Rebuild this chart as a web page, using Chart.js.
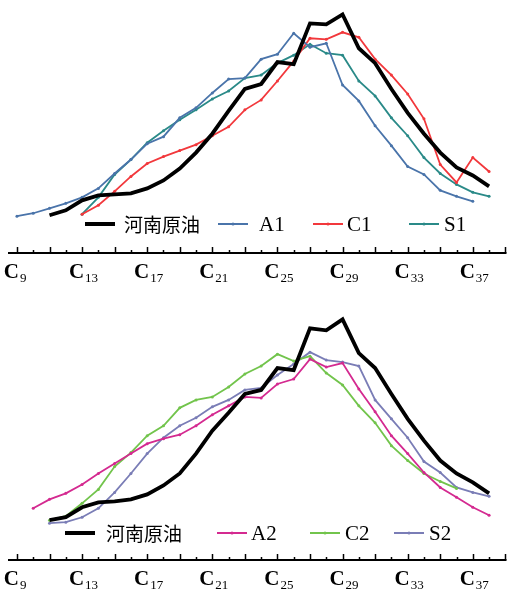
<!DOCTYPE html>
<html>
<head>
<meta charset="utf-8">
<script src="https://cdn.jsdelivr.net/npm/chart.js@4.4.1/dist/chart.umd.min.js"></script>
<style>
  html, body { margin: 0; padding: 0; background: #fff; }
  .panel { position: relative; width: 508px; }
</style>
</head>
<body>
<div class="panel" style="height:290px"><canvas id="chartTop" width="508" height="290"></canvas></div>
<div class="panel" style="height:299px"><canvas id="chartBottom" width="508" height="299"></canvas></div>
<script>
// carbon numbers C9 .. C38
const carbonNumbers = [9,10,11,12,13,14,15,16,17,18,19,20,21,22,23,24,25,26,27,28,29,30,31,32,33,34,35,36,37,38];
const tickCarbons = [9, 13, 17, 21, 25, 29, 33, 37];

// upper panel
const henanTop = [null,null,38,43,53,58,59,60,65,73,85,101,120,143,165,170,192,190,231,230,240,206,191,165,141,120,101,86,78,67];
const a1 = [37,40,45,50,56,65,80,94,110,117,136,146,161,175,176,195,200,221,207,211,169,153,128,108,87,79,63,57,52,null];
const c1 = [null,null,null,null,39,48,62,77,90,97,103,109,118,127,144,154,173,193,216,215,222,217,195,179,160,135,89,71,96,82];
const s1 = [null,null,null,null,39,56,79,94,111,123,134,144,155,163,176,179,191,199,210,201,199,173,158,136,118,96,80,69,61,57];

// lower panel
const henanBottom = [null,null,40,43,53,58,59,61,66,75,87,107,130,148,167,171,193,191,233,231,242,208,193,167,142,120,100,87,78,67];
const a2 = [null,52,61,67,76,87,97,107,117,122,126,135,146,155,164,163,177,182,202,194,198,172,149,125,107,88,73,63,53,45];
const c2 = [null,null,40,44,57,71,94,108,125,135,153,161,164,174,187,195,207,200,205,188,176,155,138,115,100,87,79,72,null,null];
const s2 = [null,null,37,38,43,52,68,87,107,123,135,143,154,161,171,173,186,197,209,201,199,195,161,142,123,99,88,73,68,64];

function toPoints(arr) {
    return carbonNumbers.map((c, i) => ({x: c, y: arr[i]}));
}

function lineSet(label, arr, color, width, radius) {
    return {
        label: label,
        data: toPoints(arr),
        borderColor: color,
        backgroundColor: color,
        borderWidth: width,
        pointRadius: radius,
        pointHoverRadius: radius,
        pointBorderWidth: 0,
        tension: 0,
        spanGaps: false
    };
}

// axis line, inward ticks, C-number labels and in-plot legend
const axisPlugin = {
    id: 'axisPlugin',
    afterDraw(chart, args, opts) {
        const ctx = chart.ctx;
        const xs = chart.scales.x;
        const area = chart.chartArea;
        const y0 = area.bottom;
        ctx.save();
        ctx.strokeStyle = '#000';
        ctx.lineWidth = 2;
        ctx.beginPath();
        ctx.moveTo(area.left, y0);
        ctx.lineTo(area.right, y0);
        ctx.stroke();
        ctx.lineWidth = 1.5;
        for (let c = 9; c <= 39; c++) {
            const px = Math.round(xs.getPixelForValue(c)) + 0.5;
            const len = (c % 2 === 1) ? 6 : 3;
            ctx.beginPath();
            ctx.moveTo(px, y0);
            ctx.lineTo(px, y0 - len);
            ctx.stroke();
        }
        ctx.fillStyle = '#000';
        tickCarbons.forEach(c => {
            const px = xs.getPixelForValue(c);
            ctx.font = 'bold 21px "Liberation Serif"';
            ctx.textAlign = 'right';
            ctx.textBaseline = 'alphabetic';
            ctx.fillText('C', px + 2, y0 + 25);
            ctx.font = '13px "Liberation Serif"';
            ctx.textAlign = 'left';
            ctx.fillText(String(c), px + 3, y0 + 29);
        });

        // legend
        const lg = opts.legend;
        ctx.textBaseline = 'middle';
        ctx.textAlign = 'left';
        chart.data.datasets.forEach((ds, i) => {
            const item = lg.items[i];
            ctx.strokeStyle = ds.borderColor;
            ctx.lineWidth = i === 0 ? 4 : 2;
            ctx.beginPath();
            ctx.moveTo(item[0], lg.y);
            ctx.lineTo(item[0] + 30, lg.y);
            ctx.stroke();
            if (i > 0) {
                ctx.fillStyle = ds.borderColor;
                ctx.beginPath();
                ctx.arc(item[0] + 15, lg.y, 1.5, 0, Math.PI * 2);
                ctx.fill();
            }
            ctx.fillStyle = '#000';
            ctx.font = i === 0 ? '19px "Noto Sans CJK SC"' : '21px "Liberation Serif"';
            ctx.fillText(ds.label, item[1], lg.y + 1);
        });
        ctx.restore();
    }
};

function makeChart(id, datasets, yMax, bottomPad, legend) {
    return new Chart(document.getElementById(id), {
        type: 'line',
        data: { datasets: datasets },
        options: {
            responsive: false,
            animation: false,
            layout: { padding: { left: 8, right: 0, top: 0, bottom: bottomPad } },
            scales: {
                x: { type: 'linear', min: 8.45, max: 39.07, display: false },
                y: { min: 0, max: yMax, display: false }
            },
            plugins: {
                legend: { display: false },
                tooltip: { enabled: false },
                axisPlugin: { legend: legend }
            }
        },
        plugins: [axisPlugin]
    });
}

makeChart('chartTop', [
    lineSet('河南原油', henanTop, '#000000', 3.8, 0),
    lineSet('A1', a1, '#4a74aa', 1.8, 1.5),
    lineSet('C1', c1, '#f2383c', 1.8, 1.5),
    lineSet('S1', s1, '#2a8a88', 1.8, 1.5)
], 253, 37, { y: 224, items: [[85, 124], [218, 259], [313, 347], [409, 444]] });

makeChart('chartBottom', [
    lineSet('河南原油', henanBottom, '#000000', 3.8, 0),
    lineSet('A2', a2, '#d42a90', 1.8, 1.5),
    lineSet('C2', c2, '#72c44c', 1.8, 1.5),
    lineSet('S2', s2, '#7a7db6', 1.8, 1.5)
], 270, 29, { y: 243, items: [[65, 106], [217, 251], [310, 345], [394, 429]] });
</script>
</body>
</html>
